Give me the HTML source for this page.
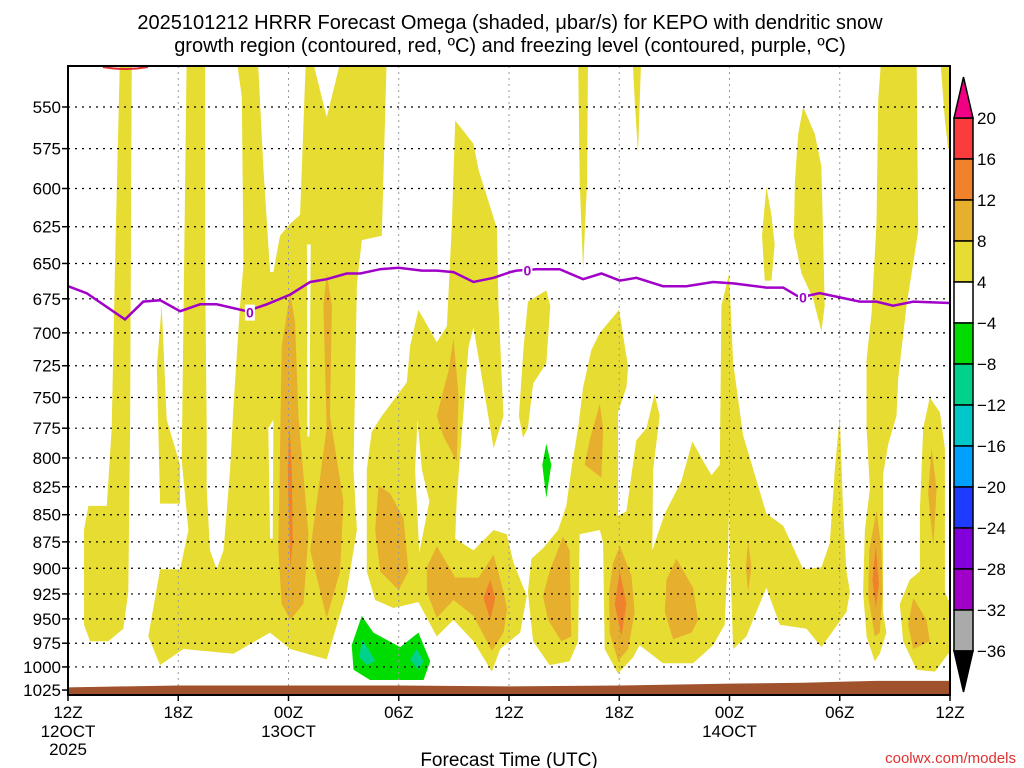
<!DOCTYPE html>
<html><head><meta charset="utf-8"><style>
html,body{margin:0;padding:0;background:#fff;width:1024px;height:768px;overflow:hidden}
svg{display:block;font-family:"Liberation Sans","DejaVu Sans",sans-serif}
</style></head><body>
<svg id="chart" width="1024" height="768" viewBox="0 0 1024 768" xmlns="http://www.w3.org/2000/svg">
<g font-size="20" fill="#000" text-anchor="middle">
<text x="510" y="29">2025101212 HRRR Forecast Omega (shaded, μbar/s) for KEPO with dendritic snow</text>
<text x="510" y="52">growth region (contoured, red, ºC) and freezing level (contoured, purple, ºC)</text>
</g>
<defs><clipPath id="plotclip"><rect x="68" y="66" width="882" height="629"/></clipPath></defs>
<g id="shading" clip-path="url(#plotclip)"></g>
<g id="grid"></g>
<g id="overlay" clip-path="url(#plotclip)"></g>
<rect x="68" y="66" width="882" height="629" fill="none" stroke="#000" stroke-width="2"/>
<g id="axes"></g>
<g id="colorbar"></g>
<text x="509" y="766" font-size="19" text-anchor="middle">Forecast Time (UTC)</text>
<text x="1016" y="763" font-size="15" fill="#e03030" text-anchor="end">coolwx.com/models</text>
</svg>
<script>
const hours=[0,6,12,18,24,30,36,42,48];
const hourLabels=["12Z","18Z","00Z","06Z","12Z","18Z","00Z","06Z","12Z"];
const dayLabels={0:["12OCT","2025"],12:["13OCT"],36:["14OCT"]};
const pressures=[550,575,600,625,650,675,700,725,750,775,800,825,850,875,900,925,950,975,1000,1025];
const cbLevels=[20,16,12,8,4,-4,-8,-12,-16,-20,-24,-28,-32,-36];
const cbColors=["#fa3c3c","#f0822c","#e6af2d","#e6dc32","#ffffff","#00dc00","#00d28c","#00c8c8","#00a0ff","#1e3cff","#8200dc","#a000c8","#aaaaaa"];

// Omega regions: [hour, pressure hPa]
const yellowRegions=[
[[2.83,520],[3.47,520],[3.38,775],[3.28,923],[3.01,960],[2.2,973],[1.2,973],[0.87,956],[0.87,864],[1.11,842],[2.11,842],[2.38,775],[2.56,651]],
[[6.46,520],[17.35,520],[17.08,631],[15.99,634],[15.72,665],[15.54,810],[15.72,864],[15.17,923],[14.08,992],[12.09,981],[11.0,964],[9.0,986],[6.28,981],[5.01,998],[4.37,968],[5.01,901],[6.1,901],[6.55,864],[6.19,802]],
[[5.1,680],[5.37,768],[6.1,806],[6.1,840],[5.01,840],[4.83,726]],
[[21.07,558],[22.07,572],[22.34,588],[23.34,626],[23.43,680],[23.7,765],[23.16,792],[22.61,742],[22.07,696],[21.8,710],[21.16,835],[21.07,872],[22.07,883],[23.16,864],[23.88,868],[24.25,895],[24.97,927],[24.61,964],[23.52,981],[23.07,1005],[22.07,973],[20.98,951],[20.07,968],[19.07,933],[17.71,939],[16.72,931],[16.26,903],[16.26,810],[16.53,778],[17.08,765],[18.44,738],[18.62,710],[19.07,683],[20.07,707],[20.62,695],[20.89,623]],
[[27.76,520],[28.3,520],[28.25,596],[28.03,654],[27.85,596]],
[[30.71,520],[31.2,520],[31.02,578],[30.84,546]],
[[25.03,677],[26.03,669],[26.25,680],[26.03,723],[25.31,739],[25.03,775],[24.76,783],[24.54,765],[24.8,710]],
[[29.99,683],[30.48,726],[30.39,742],[29.93,762],[29.93,851],[30.39,847],[30.93,785],[31.48,775],[31.93,747],[32.2,765],[31.84,810],[31.8,883],[32.48,849],[33.38,820],[33.98,786],[34.47,800],[35.02,815],[35.47,806],[35.56,680],[35.98,657],[36.2,723],[36.74,781],[38.01,849],[38.92,860],[40.01,901],[41.0,899],[41.46,876],[41.73,810],[42.0,765],[42.18,846],[42.37,903],[42.55,923],[42.37,943],[41.0,979],[40.19,960],[38.74,956],[38.01,919],[37.28,951],[36.92,968],[36.2,981],[36.01,883],[35.98,842],[35.92,883],[35.74,956],[35.11,977],[34.02,996],[32.38,996],[31.11,977],[30.75,990],[29.93,1007],[29.21,981],[29.12,876],[28.94,864],[27.85,868],[27.76,973],[27.3,994],[26.21,998],[25.31,973],[25.03,923],[25.22,891],[25.85,881],[26.67,864],[27.12,842],[27.39,810],[27.76,775],[28.03,742],[28.48,713],[28.94,700]],
[[44.27,520],[46.18,520],[46.27,628],[45.63,680],[45.18,735],[45.09,765],[44.64,788],[44.36,814],[44.36,943],[44.54,964],[44.18,986],[43.91,994],[43.46,968],[43.27,923],[43.37,864],[43.64,827],[43.46,775],[43.46,720],[43.73,686],[44.0,623],[44.09,546]],
[[40.01,550],[40.64,566],[41.0,586],[41.09,628],[41.18,680],[41.0,699],[40.55,675],[39.92,657],[39.5,631],[39.56,596],[39.74,566]],
[[38.01,599],[38.28,617],[38.46,637],[38.28,662],[37.92,662],[37.77,631]],
[[46.9,750],[47.45,762],[47.72,792],[47.72,923],[47.9,931],[48.2,931],[48.2,986],[47.9,986],[47.18,1005],[46.18,1003],[45.45,973],[45.27,935],[45.81,911],[46.36,903],[46.36,846],[46.54,775]],
[[47.45,520],[48.2,520],[48.2,575],[47.9,575],[47.72,558]]
];
const whiteRegions=[
[[7.46,510],[9.0,510],[9.46,544],[9.55,651],[9.36,680],[9.0,758],[8.82,810],[8.46,883],[8.09,901],[7.73,883],[7.55,827],[7.55,775],[7.46,651]],
[[10.27,510],[12.99,510],[12.63,617],[12.09,623],[11.54,631],[11.18,656],[11.0,656],[10.64,588]],
[[12.99,510],[15.17,510],[14.08,556]],
[[13.0,637],[13.21,637],[13.14,782],[13.03,782]],
[[10.9,775],[11.18,768],[11.14,872],[11.0,872]],
[[19.02,768],[19.26,810],[19.67,838],[19.12,885],[18.89,810]]
];
const orangeRegions=[
[[12.09,671],[12.36,692],[12.54,765],[13.09,868],[12.81,935],[12.09,951],[11.63,935],[11.45,883],[11.63,710]],
[[14.08,657],[14.36,680],[14.26,765],[14.99,838],[14.81,903],[14.08,949],[13.18,883],[14.08,775],[13.9,680]],
[[16.9,824],[17.53,831],[18.26,853],[18.53,903],[17.99,921],[16.99,903],[16.72,864]],
[[20.98,704],[21.25,748],[21.16,803],[20.44,782],[20.07,765],[20.71,729]],
[[20.07,879],[21.07,909],[22.34,909],[23.16,887],[23.7,923],[23.9,940],[23.7,964],[23.07,983],[22.07,947],[20.98,931],[20.07,949],[19.53,923],[19.53,899]],
[[28.94,755],[29.12,775],[29.03,817],[28.12,806],[28.39,785]],
[[26.94,870],[27.3,883],[27.39,968],[26.85,973],[26.12,951],[25.85,927],[26.21,903]],
[[30.03,879],[30.66,907],[30.84,943],[30.48,981],[29.93,994],[29.48,964],[29.44,923],[29.66,895]],
[[33.11,891],[34.02,919],[34.29,951],[33.93,964],[32.93,971],[32.48,943],[32.57,911]],
[[37.01,874],[37.19,899],[37.01,923],[36.89,899]],
[[44.0,846],[44.27,883],[44.33,923],[44.18,964],[43.91,968],[43.55,927],[43.6,883]],
[[47.0,792],[47.27,827],[47.09,879],[46.81,831]],
[[46.0,929],[46.72,951],[46.9,973],[46.0,981],[45.72,956]]
];
const darkOrangeRegions=[
[[12.05,772],[12.18,810],[12.23,876],[12.09,899],[11.96,810]],
[[22.98,911],[23.25,929],[22.98,951],[22.61,929]],
[[30.03,903],[30.39,935],[30.12,968],[29.75,935]],
[[43.96,879],[44.13,915],[43.96,939],[43.78,911]]
];
const greenRegions=[
[[15.99,947],[16.62,964],[18.08,979],[19.07,964],[19.71,994],[19.35,1014],[16.44,1014],[15.54,1003],[15.44,977]],
[[26.03,788],[26.3,806],[26.03,835],[25.81,806]]
];
const tealRegions=[
[[15.99,971],[16.35,981],[16.72,994],[16.26,998],[15.86,990]],
[[18.98,981],[19.35,994],[19.07,1003],[18.62,992]]
];
const freezeHours=[0,1.02,3.1,4.1,5.01,6.1,7.19,8.09,9.73,10.82,12.09,13.18,14.08,15.17,15.9,16.99,17.99,19.26,20.07,20.98,22.07,23.16,24.07,24.4,25.49,26.76,28.03,29.03,30.03,30.93,32.38,33.66,35.11,36.2,38.01,38.92,39.83,40.91,42.0,43.09,44.0,44.91,46.0,48];
const freezeP=[666,671,690,677,676,684,679,679,684,679,672,663,661,657,657,654,653,655,655,656,663,660,656,655,654,654,661,657,662,660,666,666,663,664,667,667,674,671,674,677,677,680,677,678];
const freezeLabels=[[9.9,685],[25.0,655],[40.0,674]];
const groundHours=[0,3,6,12,18,24,30,36,40,42,44,48];
const groundP=[1022,1021,1020,1020,1020,1021,1020,1018,1017,1016,1015,1015];

const X=h=>68+h*882/48;
const Y=p=>107+936.6*Math.log(p/550);
const NS="http://www.w3.org/2000/svg";
function mk(tag,attrs,parent){const e=document.createElementNS(NS,tag);for(const k in attrs)e.setAttribute(k,attrs[k]);parent.appendChild(e);return e;}
function poly(pts){return "M"+pts.map(q=>X(q[0]).toFixed(1)+","+Y(q[1]).toFixed(1)).join("L")+"Z";}
const shading=document.getElementById("shading");
function drawSet(set,color,name){set.forEach(r=>{const e=mk("path",{d:poly(r),fill:color},shading);

});}
drawSet(yellowRegions,"#e6dc32","omega-4-8-region");
drawSet(whiteRegions,"#ffffff","omega-below-4-region");
drawSet(orangeRegions,"#e6af2d","omega-8-12-region");
drawSet(darkOrangeRegions,"#f0822c","omega-12-16-region");
drawSet(greenRegions,"#00dc00","omega-neg4-neg8-region");
drawSet(tealRegions,"#00d28c","omega-neg8-neg12-region");

const grid=document.getElementById("grid");
pressures.forEach(p=>{const e=mk("line",{x1:68,x2:950,y1:Y(p),y2:Y(p),stroke:"#000","stroke-width":1.2,"stroke-dasharray":"2,5"},grid);

});
hours.slice(1,-1).forEach(h=>{const e=mk("line",{x1:X(h),x2:X(h),y1:66,y2:695,stroke:"#999","stroke-width":1,"stroke-dasharray":"2,4"},grid);

});

const ov=document.getElementById("overlay");
const gr=mk("path",{d:"M"+groundHours.map((h,i)=>X(h)+","+Y(groundP[i])).join("L")+"L950,696L68,696Z",fill:"#a0522d"},ov);


const dsg=mk("path",{d:"M103,67 Q125,71 148,67",fill:"none",stroke:"#e03030","stroke-width":2},ov);


const fl=mk("polyline",{points:freezeHours.map((h,i)=>X(h).toFixed(1)+","+Y(freezeP[i]).toFixed(1)).join(" "),fill:"none",stroke:"#a000c8","stroke-width":2.5},ov);


freezeLabels.forEach(l=>{const r=mk("rect",{x:X(l[0])-5,y:Y(l[1])-8,width:10,height:16,fill:"#fff"},ov);


const t=mk("text",{x:X(l[0]),y:Y(l[1])+5,"font-size":14,"font-weight":"bold",fill:"#a000c8","text-anchor":"middle"},ov);t.textContent="0";

});

const ax=document.getElementById("axes");
pressures.forEach(p=>{const t=mk("text",{x:61,y:Y(p)+6,"font-size":17,"text-anchor":"end"},ax);t.textContent=p;


const l=mk("line",{x1:62,x2:68,y1:Y(p),y2:Y(p),stroke:"#000","stroke-width":1.5},ax);

});
hours.forEach((h,i)=>{const l=mk("line",{x1:X(h),x2:X(h),y1:695,y2:701,stroke:"#000","stroke-width":1.5},ax);


const t=mk("text",{x:X(h),y:718,"font-size":17,"text-anchor":"middle"},ax);t.textContent=hourLabels[i];


(dayLabels[h]||[]).forEach((d,j)=>{const u=mk("text",{x:X(h),y:737+j*18,"font-size":17,"text-anchor":"middle"},ax);u.textContent=d;

});});

const cb=document.getElementById("colorbar");
const cbTop=118,cbStep=41,cbX=954,cbW=19;
cbColors.forEach((c,i)=>{const r=mk("rect",{x:cbX,y:cbTop+i*cbStep,width:cbW,height:cbStep,fill:c,stroke:"#000","stroke-width":1.5},cb);

});
const tu=mk("path",{d:`M${cbX},${cbTop}L${cbX+cbW/2},77L${cbX+cbW},${cbTop}Z`,fill:"#f00082",stroke:"#000","stroke-width":1.5},cb);


const bEnd=cbTop+cbColors.length*cbStep;
const td=mk("path",{d:`M${cbX},${bEnd}L${cbX+cbW/2},692L${cbX+cbW},${bEnd}Z`,fill:"#000",stroke:"#000","stroke-width":1.5},cb);


cbLevels.forEach((v,i)=>{const t=mk("text",{x:977,y:cbTop+i*cbStep+6,"font-size":17},cb);t.textContent=v<0?"−"+(-v):String(v);

});
</script>
</body></html>
